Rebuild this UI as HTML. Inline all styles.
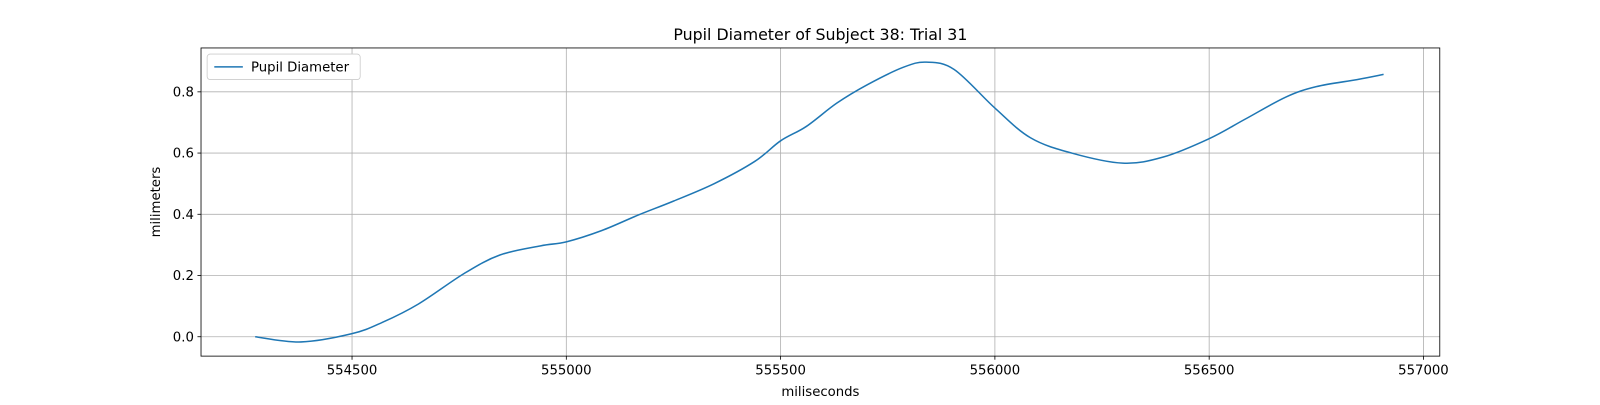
<!DOCTYPE html>
<html><head><meta charset="utf-8"><style>
body{margin:0;background:#fff;width:1600px;height:400px;overflow:hidden}
svg text{font-family:"DejaVu Sans","Liberation Sans",sans-serif;fill:#000}
</style></head><body>
<svg width="1600" height="400"><g id="c" transform="scale(1.0204)"></g></svg>
<script>
const times=[554274,554381,554500,554571,554655,554762,554845,554940,555000,555083,555167,555250,555345,555440,555500,555560,555631,555702,555786,555840,555905,556000,556083,556179,556298,556393,556500,556583,556679,556750,556845,556907];
const values=[0,-0.017,0.01,0.047,0.107,0.207,0.267,0.297,0.31,0.347,0.397,0.443,0.5,0.573,0.64,0.687,0.763,0.823,0.88,0.897,0.873,0.747,0.65,0.6,0.567,0.587,0.647,0.71,0.783,0.817,0.84,0.857];
const xTicks=[554500,555000,555500,556000,556500,557000];
const yTicks=[0.0,0.2,0.4,0.6,0.8];
const L=197,R=1411,T=47,B=349;
const sx=v=>345+(v-554500)*0.42;
const sy=v=>330-v*300;
const svg=document.getElementById('c');
const NS='http://www.w3.org/2000/svg';
function mk(t,a,p){const e=document.createElementNS(NS,t);for(const k in a)e.setAttribute(k,a[k]);(p||svg).appendChild(e);return e;}
xTicks.forEach(t=>{const x=sx(t);
 const g=mk('line',{x1:x,x2:x,y1:T,y2:B,stroke:'#b0b0b0','stroke-width':0.8});
 
 
 mk('line',{x1:x,x2:x,y1:B,y2:B+3.5,stroke:'#000','stroke-width':0.8});
 const tx=mk('text',{x:x,y:B+18,'text-anchor':'middle','font-size':13});tx.textContent=t;
 
 });
yTicks.forEach(t=>{const y=sy(t);
 const g=mk('line',{x1:L,x2:R,y1:y,y2:y,stroke:'#b0b0b0','stroke-width':0.8});
 
 
 mk('line',{x1:L-3.5,x2:L,y1:y,y2:y,stroke:'#000','stroke-width':0.8});
 const tx=mk('text',{x:L-7,y:y+4.5,'text-anchor':'end','font-size':13});tx.textContent=t.toFixed(1);
 
 });
const pts=times.map((t,i)=>[sx(t),sy(values[i])]);
let d='M'+pts[0][0]+','+pts[0][1];
for(let i=0;i<pts.length-1;i++){const p0=pts[Math.max(0,i-1)],p1=pts[i],p2=pts[i+1],p3=pts[Math.min(pts.length-1,i+2)];
 d+=` C${p1[0]+(p2[0]-p0[0])/6},${p1[1]+(p2[1]-p0[1])/6} ${p2[0]-(p3[0]-p1[0])/6},${p2[1]-(p3[1]-p1[1])/6} ${p2[0]},${p2[1]}`;}
const line=mk('path',{d:d,fill:'none',stroke:'#1f77b4','stroke-width':1.5});


const fr=mk('rect',{x:L,y:T,width:R-L,height:B-T,fill:'none',stroke:'#000','stroke-width':0.8});


const ti=mk('text',{x:(L+R)/2,y:39,'text-anchor':'middle','font-size':15.5});ti.textContent='Pupil Diameter of Subject 38: Trial 31';


const xl=mk('text',{x:(L+R)/2,y:388,'text-anchor':'middle','font-size':13});xl.textContent='miliseconds';


const yl=mk('text',{x:157,y:198,'text-anchor':'middle','font-size':13,transform:'rotate(-90 157 198)'});yl.textContent='milimeters';


const lg=mk('g',{});


mk('rect',{x:203,y:53,width:150,height:25,rx:3,fill:'#fff',stroke:'#ccc','stroke-width':0.8},lg);
mk('line',{x1:210,x2:238,y1:65.5,y2:65.5,stroke:'#1f77b4','stroke-width':1.5},lg);
const lt=mk('text',{x:246,y:70,'font-size':13},lg);lt.textContent='Pupil Diameter';


</script></body></html>
